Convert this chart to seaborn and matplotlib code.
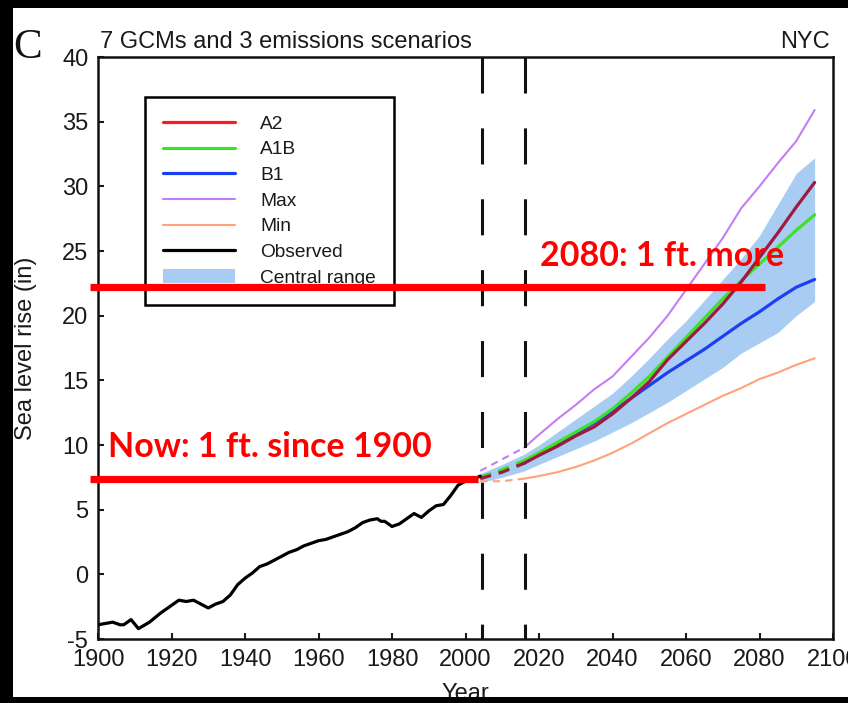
import numpy as np
import pandas as pd
import matplotlib
matplotlib.use("Agg")
import matplotlib.pyplot as plt
import seaborn as sns
from matplotlib.lines import Line2D
from matplotlib.patches import Patch, Rectangle

# ---------------- data ----------------
obs_years = [1900, 1902, 1904, 1906, 1907, 1909, 1911, 1914, 1917, 1920, 1922, 1924, 1926,
             1928, 1930, 1932, 1934, 1936, 1938, 1940, 1942, 1944, 1946, 1948, 1950, 1952,
             1954, 1956, 1958, 1960, 1962, 1964, 1966, 1968, 1970, 1972, 1974, 1976, 1977,
             1978, 1980, 1982, 1984, 1986, 1988, 1990, 1992, 1994, 1996, 1998, 2000, 2002, 2004]
obs_values = [-3.9, -3.8, -3.7, -3.9, -3.9, -3.5, -4.2, -3.7, -3.0, -2.4, -2.0, -2.1, -2.0,
              -2.3, -2.6, -2.3, -2.1, -1.6, -0.8, -0.3, 0.1, 0.6, 0.8, 1.1, 1.4, 1.7,
              1.9, 2.2, 2.4, 2.6, 2.7, 2.9, 3.1, 3.3, 3.6, 4.0, 4.2, 4.3, 4.1,
              4.1, 3.7, 3.9, 4.3, 4.7, 4.4, 4.9, 5.3, 5.4, 6.1, 6.9, 7.2, 7.3, 7.6]

proj_years = [2004, 2010, 2016, 2020, 2025, 2030, 2035, 2040, 2045, 2050,
              2055, 2060, 2065, 2070, 2075, 2080, 2085, 2090, 2095]
a2_values = [7.4, 7.9, 8.6, 9.2, 9.9, 10.7, 11.4, 12.4, 13.6, 14.9,
             16.6, 18.0, 19.4, 20.9, 22.6, 24.5, 26.4, 28.4, 30.3]
a1b_values = [7.5, 8.1, 8.8, 9.4, 10.2, 11.0, 11.8, 12.8, 14.0, 15.3,
              16.8, 18.3, 19.8, 21.3, 22.7, 24.0, 25.3, 26.6, 27.8]
b1_values = [7.5, 8.0, 8.6, 9.3, 10.1, 10.9, 11.7, 12.6, 13.6, 14.6,
             15.6, 16.5, 17.4, 18.4, 19.4, 20.3, 21.3, 22.2, 22.8]
max_values = [8.0, 8.9, 9.8, 10.8, 12.0, 13.1, 14.3, 15.3, 16.8, 18.3,
              20.0, 22.0, 24.0, 26.0, 28.3, 30.0, 31.8, 33.5, 35.9]
min_values = [7.2, 7.2, 7.4, 7.6, 7.9, 8.3, 8.8, 9.4, 10.1, 10.9,
              11.7, 12.4, 13.1, 13.8, 14.4, 15.1, 15.6, 16.2, 16.7]
central_low = [7.1, 7.5, 8.0, 8.5, 9.1, 9.7, 10.3, 11.0, 11.7, 12.5,
               13.3, 14.2, 15.1, 16.0, 17.1, 17.9, 18.7, 20.0, 21.1]
central_high = [7.8, 8.5, 9.3, 10.0, 11.0, 12.0, 13.0, 14.0, 15.3, 16.7,
                18.2, 19.6, 21.2, 22.8, 24.4, 26.2, 28.6, 31.0, 32.2]

period_bounds = [2004.4, 2016.3]
x_ticks = list(range(1900, 2101, 20))
y_ticks = list(range(-5, 41, 5))

now_level = 7.36
future_level = 22.2
now_label = "Now: 1 ft. since 1900"
future_label = "2080: 1 ft. more"

scenario_names = ["A2", "A1B", "B1", "Max", "Min"]

# ---------------- style ----------------
sns.set_style("ticks")
plt.rcParams['font.family'] = ['Liberation Sans', 'DejaVu Sans']
plt.rcParams['axes.unicode_minus'] = False

W, H = 848, 703
fig = plt.figure(figsize=(W / 100, H / 100), dpi=100, facecolor='black')
fig.add_artist(Rectangle((13 / W, 1 - 697 / H), 1, (697 - 8) / H, transform=fig.transFigure,
                         facecolor='white', edgecolor='none', zorder=-10))

ax_l, ax_r, ax_t, ax_b = 98, 833, 57, 639
ax = fig.add_axes([ax_l / W, 1 - ax_b / H, (ax_r - ax_l) / W, (ax_b - ax_t) / H])
ax.set_facecolor('white')

# central range
ax.fill_between(proj_years, central_low, central_high, color='#a9cdf2', lw=0, zorder=1)

proj = pd.DataFrame({"year": proj_years, "A2": a2_values, "A1B": a1b_values,
                     "B1": b1_values, "Max": max_values, "Min": min_values})
long = proj.melt(id_vars="year", var_name="scenario", value_name="value")

plot_colors = {"A2": "#9e1a40", "A1B": "#3fe02a", "B1": "#1d3ff2",
               "Max": "#c57df5", "Min": "#ffa27a"}
legend_colors = {"A2": "#ff1a1a", "A1B": "#3fe02a", "B1": "#1d3ff2",
                 "Max": "#c57df5", "Min": "#ffa27a"}
widths = {"A2": 2.3, "A1B": 2.3, "B1": 2.3, "Max": 1.5, "Min": 1.5}
zorders = {"Min": 3, "Max": 3, "B1": 4, "A1B": 5, "A2": 6}

for name in ["Min", "Max", "B1", "A1B", "A2"]:
    d = long[long["scenario"] == name]
    early = d[d["year"] <= period_bounds[1]]
    late = d[d["year"] >= 2016]
    sns.lineplot(data=early, x="year", y="value", color=plot_colors[name], lw=widths[name],
                 linestyle=(0, (3.5, 2.5)), ax=ax, zorder=zorders[name], legend=False)
    sns.lineplot(data=late, x="year", y="value", color=plot_colors[name], lw=widths[name],
                 ax=ax, zorder=zorders[name], legend=False)

sns.lineplot(x=obs_years, y=obs_values, color='black', lw=2.3, ax=ax, zorder=6)

# vertical dashed period lines
for xb in period_bounds:
    ax.plot([xb, xb], [40, -5], color='#111111', lw=2.2, linestyle=(0, (11.8, 11.4)),
            zorder=7, solid_capstyle='butt')

# annotation red lines
ax.plot([1897.8, 2003.4], [now_level, now_level], color='#fe0000', lw=5.2,
        solid_capstyle='butt', clip_on=False, zorder=10)
ax.plot([1897.8, 2081.5], [future_level, future_level], color='#fe0000', lw=5.2,
        solid_capstyle='butt', clip_on=False, zorder=10)
ax.text(1902.7, 9.85, now_label, color='#fe0000', fontsize=24.5, fontweight='bold',
        family=['Lato', 'DejaVu Sans'], ha='left', va='center', zorder=11)
ax.text(2020.3, 24.6, future_label, color='#fe0000', fontsize=24.5, fontweight='bold',
        family=['Lato', 'DejaVu Sans'], ha='left', va='center', zorder=11)

# axes formatting
ax.set_xlim(1900, 2100)
ax.set_ylim(-5, 40)
ax.set_xticks(x_ticks)
ax.set_yticks(y_ticks)
ax.tick_params(axis='both', direction='in', length=4.5, width=1.5, labelsize=17,
               colors='#1a1a1a', pad=7, top=False, right=False)
for s in ax.spines.values():
    s.set_linewidth(1.8)
    s.set_color('#111111')
    s.set_visible(True)

ax.set_xlabel("Year", fontsize=17, color='#1a1a1a')
ax.set_ylabel("Sea level rise (in)", fontsize=17, color='#1a1a1a')
ax.xaxis.set_label_coords(0.5, -(683 - ax_b) / (ax_b - ax_t))
ax.yaxis.set_label_coords(-(ax_l - 37) / (ax_r - ax_l), 0.5)

# legend
handles = [Line2D([0], [0], color=legend_colors[n], lw=widths[n]) for n in scenario_names]
handles.append(Line2D([0], [0], color='black', lw=2.3))
handles.append(Patch(facecolor='#a9cdf2', edgecolor='none'))
labels = scenario_names + ["Observed", "Central range"]
leg = ax.legend(handles, labels, loc='upper left',
                bbox_to_anchor=((145 - ax_l) / (ax_r - ax_l), (ax_b - 97) / (ax_b - ax_t)),
                borderaxespad=0, fontsize=13.8, handlelength=3.75, handletextpad=1.3,
                labelspacing=0.43, borderpad=0.95, fancybox=False, framealpha=1,
                edgecolor='black')
leg.get_frame().set_linewidth(1.8)
for t in leg.get_texts():
    t.set_color('#1a1a1a')
leg.set_zorder(8)

# titles
fig.text(100 / W, 1 - 42 / H, "7 GCMs and 3 emissions scenarios", fontsize=17,
         ha='left', va='center', color='#1a1a1a')
fig.text(830 / W, 1 - 42 / H, "NYC", fontsize=17, ha='right', va='center', color='#1a1a1a')
fig.text(28 / W, 1 - 48 / H, "C", fontsize=31, ha='center', va='center',
         family=['Liberation Serif', 'DejaVu Serif'], color='#111111')

# black frame overlay at bottom (cuts the axis label like the reference)
fig.add_artist(Rectangle((0, 0), 1, 1 - 697 / H, transform=fig.transFigure,
                         facecolor='black', edgecolor='none', zorder=100))

fig.savefig("out.png", dpi=100, facecolor='black')
